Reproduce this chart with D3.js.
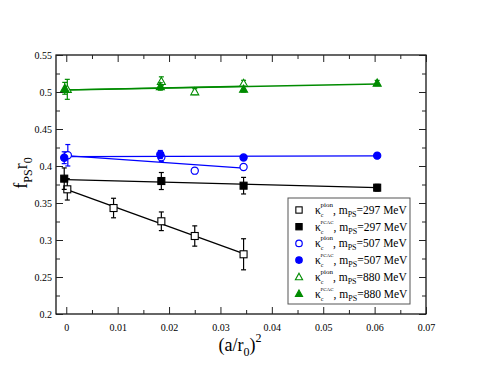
<!DOCTYPE html>
<html>
<head>
<meta charset="utf-8">
<script src="https://cdn.jsdelivr.net/npm/d3@7"></script>
<style>
  body { margin: 0; background: #fff; }
  text { font-family: "Liberation Serif", "DejaVu Serif", serif; }
</style>
</head>
<body>
<svg width="479" height="370"></svg>
<script>
// data: x = (a/r0)^2, y = f_PS r0, e = error
const xPion297 = [0.0002, 0.0092, 0.0185, 0.025, 0.0345];
const yPion297 = [0.3685, 0.3432, 0.3253, 0.3054, 0.2807];
const ePion297 = [0.0145, 0.0132, 0.0126, 0.0137, 0.021];

const xPcac297 = [-0.0004, 0.0185, 0.0345, 0.0605];
const yPcac297 = [0.3829, 0.3797, 0.3734, 0.3707];
const ePcac297 = [0.0145, 0.0115, 0.0112, 0.0045];

const xPion507 = [0.0003, 0.0185, 0.025, 0.0345];
const yPion507 = [0.4145, 0.4118, 0.3937, 0.3986];
const ePion507 = [0.0145, 0.0055, 0.004, 0.0035];

const xPcac507 = [-0.0004, 0.0183, 0.0345, 0.0605];
const yPcac507 = [0.4112, 0.4155, 0.4115, 0.414];
const ePcac507 = [0.008, 0.0055, 0.003, 0.003];

const xPion880 = [0.0002, 0.0185, 0.025, 0.0345];
const yPion880 = [0.5036, 0.5145, 0.5005, 0.5118];
const ePion880 = [0.0135, 0.006, 0.004, 0.004];

const xPcac880 = [-0.0003, 0.0183, 0.0345, 0.0605];
const yPcac880 = [0.505, 0.5075, 0.504, 0.5122];
const ePcac880 = [0.008, 0.005, 0.004, 0.0035];

// linear fit lines, endpoints
const fitPion297 = [[0, 0.3685], [0.0345, 0.2815]];
const fitPcac297 = [[0, 0.3815], [0.0605, 0.3707]];
const fitPion507 = [[0, 0.414], [0.0345, 0.397]];
const fitPcac507 = [[0, 0.4128], [0.0605, 0.4138]];
const fitPion880 = [[0, 0.503], [0.0345, 0.5078]];
const fitPcac880 = [[0, 0.5027], [0.0605, 0.5108]];

const xTicks = [0, 0.01, 0.02, 0.03, 0.04, 0.05, 0.06, 0.07];
const yTicks = [0.2, 0.25, 0.3, 0.35, 0.4, 0.45, 0.5, 0.55];

const black = '#000', blue = '#0000ff', green = '#008b00';

const series = [
  { xs: xPion297, ys: yPion297, es: ePion297, fit: fitPion297, color: black, shape: 'square', open: true, kind: 'pion', mass: '297' },
  { xs: xPcac297, ys: yPcac297, es: ePcac297, fit: fitPcac297, color: black, shape: 'square', open: false, kind: 'PCAC', mass: '297' },
  { xs: xPion507, ys: yPion507, es: ePion507, fit: fitPion507, color: blue, shape: 'circle', open: true, kind: 'pion', mass: '507' },
  { xs: xPcac507, ys: yPcac507, es: ePcac507, fit: fitPcac507, color: blue, shape: 'circle', open: false, kind: 'PCAC', mass: '507' },
  { xs: xPion880, ys: yPion880, es: ePion880, fit: fitPion880, color: green, shape: 'triangle', open: true, kind: 'pion', mass: '880' },
  { xs: xPcac880, ys: yPcac880, es: ePcac880, fit: fitPcac880, color: green, shape: 'triangle', open: false, kind: 'PCAC', mass: '880' }
];

const svg = d3.select('svg');
const mLeft = 56, mRight = 426, mTop = 55, mBottom = 314;

const x = d3.scaleLinear().domain([-0.002, 0.07]).range([mLeft, mRight]);
const y = d3.scaleLinear().domain([0.2, 0.55]).range([mBottom, mTop]);

const g = svg.append('g');

// frame
g.append('rect')
  .attr('x', mLeft).attr('y', mTop)
  .attr('width', mRight - mLeft).attr('height', mBottom - mTop)
  .attr('fill', 'none').attr('stroke', '#000').attr('stroke-width', 1.2);

// axes with inward ticks
const xMinor = d3.range(0.005, 0.07, 0.01);
const yMinor = d3.range(0.225, 0.55, 0.05);

const tickStyle = sel => {
  sel.select('.domain').remove();
  sel.selectAll('line').attr('stroke', '#222');
};

g.append('g').attr('transform', `translate(0,${mBottom})`)
  .call(d3.axisBottom(x).tickValues(xTicks).tickSizeInner(-7).tickSizeOuter(0)
    .tickPadding(10).tickFormat(d3.format('~g')))
  .call(tickStyle)
  .selectAll('text').attr('font-size', 10).attr('fill', '#000')
  .attr('font-family', '"Liberation Serif", serif');
g.append('g').attr('transform', `translate(0,${mBottom})`)
  .call(d3.axisBottom(x).tickValues(xMinor).tickSize(-4).tickFormat(''))
  .call(tickStyle);
g.append('g').attr('transform', `translate(0,${mTop})`)
  .call(d3.axisTop(x).tickValues(xTicks).tickSize(-7).tickFormat(''))
  .call(tickStyle);
g.append('g').attr('transform', `translate(0,${mTop})`)
  .call(d3.axisTop(x).tickValues(xMinor).tickSize(-4).tickFormat(''))
  .call(tickStyle);

g.append('g').attr('transform', `translate(${mLeft},0)`)
  .call(d3.axisLeft(y).tickValues(yTicks).tickSizeInner(-7).tickSizeOuter(0)
    .tickPadding(4).tickFormat(d3.format('~g')))
  .call(tickStyle)
  .selectAll('text').attr('font-size', 10).attr('fill', '#000')
  .attr('font-family', '"Liberation Serif", serif');
g.append('g').attr('transform', `translate(${mLeft},0)`)
  .call(d3.axisLeft(y).tickValues(yMinor).tickSize(-4).tickFormat(''))
  .call(tickStyle);
g.append('g').attr('transform', `translate(${mRight},0)`)
  .call(d3.axisRight(y).tickValues(yTicks).tickSize(-7).tickFormat(''))
  .call(tickStyle);
g.append('g').attr('transform', `translate(${mRight},0)`)
  .call(d3.axisRight(y).tickValues(yMinor).tickSize(-4).tickFormat(''))
  .call(tickStyle);

// fit lines
const line = d3.line().x(d => x(d[0])).y(d => y(d[1]));
series.forEach(s => {
  g.append('path')
    .attr('d', line(s.fit))
    .attr('fill', 'none')
    .attr('stroke', s.color)
    .attr('stroke-width', 1.3);
});

// marker drawing
function marker(sel, s, cx, cy, scale = 1) {
  const fill = s.open ? '#fff' : s.color;
  if (s.shape === 'square') {
    const h = 3.5 * scale;
    sel.append('rect').attr('x', cx - h).attr('y', cy - h)
      .attr('width', 2 * h).attr('height', 2 * h)
      .attr('fill', fill).attr('stroke', s.color).attr('stroke-width', 1.1);
  } else if (s.shape === 'circle') {
    sel.append('circle').attr('cx', cx).attr('cy', cy).attr('r', 3.6 * scale)
      .attr('fill', fill).attr('stroke', s.color).attr('stroke-width', 1.2);
  } else {
    const h = 4 * scale;
    sel.append('path')
      .attr('d', `M${cx},${cy - h}L${cx + h},${cy + h * 0.8}L${cx - h},${cy + h * 0.8}Z`)
      .attr('fill', fill).attr('stroke', s.color).attr('stroke-width', 1.1);
  }
}

// error bars and points
series.forEach(s => {
  const pts = s.xs.map((v, i) => ({ x: v, y: s.ys[i], e: s.es[i] }));
  const sg = g.append('g');
  pts.forEach(p => {
    const px = x(p.x);
    const y0 = y(p.y - p.e), y1 = y(p.y + p.e);
    sg.append('line').attr('x1', px).attr('x2', px).attr('y1', y0).attr('y2', y1)
      .attr('stroke', s.color).attr('stroke-width', 1.2);
    [y0, y1].forEach(yy => {
      sg.append('line').attr('x1', px - 2.5).attr('x2', px + 2.5).attr('y1', yy).attr('y2', yy)
        .attr('stroke', s.color).attr('stroke-width', 1.2);
    });
  });
  pts.forEach(p => marker(sg, s, x(p.x), y(p.y)));
});

// legend
const lg = svg.append('g');
lg.append('rect').attr('x', 288).attr('y', 198).attr('width', 122).attr('height', 106)
  .attr('fill', '#fff').attr('stroke', '#555').attr('stroke-width', 1);

series.forEach((s, i) => {
  const ly = 210 + i * 16.7;
  marker(lg, s, 299, ly, 0.9);
  const t = lg.append('text').attr('x', 315).attr('y', ly + 4).attr('font-size', 11.5).attr('fill', '#000');
  t.append('tspan').text('κ');
  t.append('tspan').attr('font-size', 6).attr('dy', 3).text('c');
  t.append('tspan').attr('font-size', s.kind === 'pion' ? 7 : 5).attr('dx', -3).attr('dy', -10).text(s.kind);
  t.append('tspan').attr('dy', 7).text(',  m');
  t.append('tspan').attr('font-size', 8).attr('dy', 3).text('PS');
  t.append('tspan').attr('dy', -3).text('=' + s.mass + ' MeV');
});

// axis titles
const xt = svg.append('text').attr('x', 240).attr('y', 351).attr('text-anchor', 'middle')
  .attr('font-size', 18).attr('fill', '#000');
xt.append('tspan').text('(a/r');
xt.append('tspan').attr('font-size', 12).attr('dy', 5).text('0');
xt.append('tspan').attr('dy', -5).text(')');
xt.append('tspan').attr('font-size', 12).attr('dy', -9).text('2');

const yt = svg.append('text').attr('transform', 'translate(27,173) rotate(-90)')
  .attr('text-anchor', 'middle').attr('font-size', 18).attr('fill', '#000');
yt.append('tspan').text('f');
yt.append('tspan').attr('font-size', 12).attr('dy', 5).text('PS');
yt.append('tspan').attr('dy', -5).text('r');
yt.append('tspan').attr('font-size', 12).attr('dy', 5).text('0');
</script>
</body>
</html>
